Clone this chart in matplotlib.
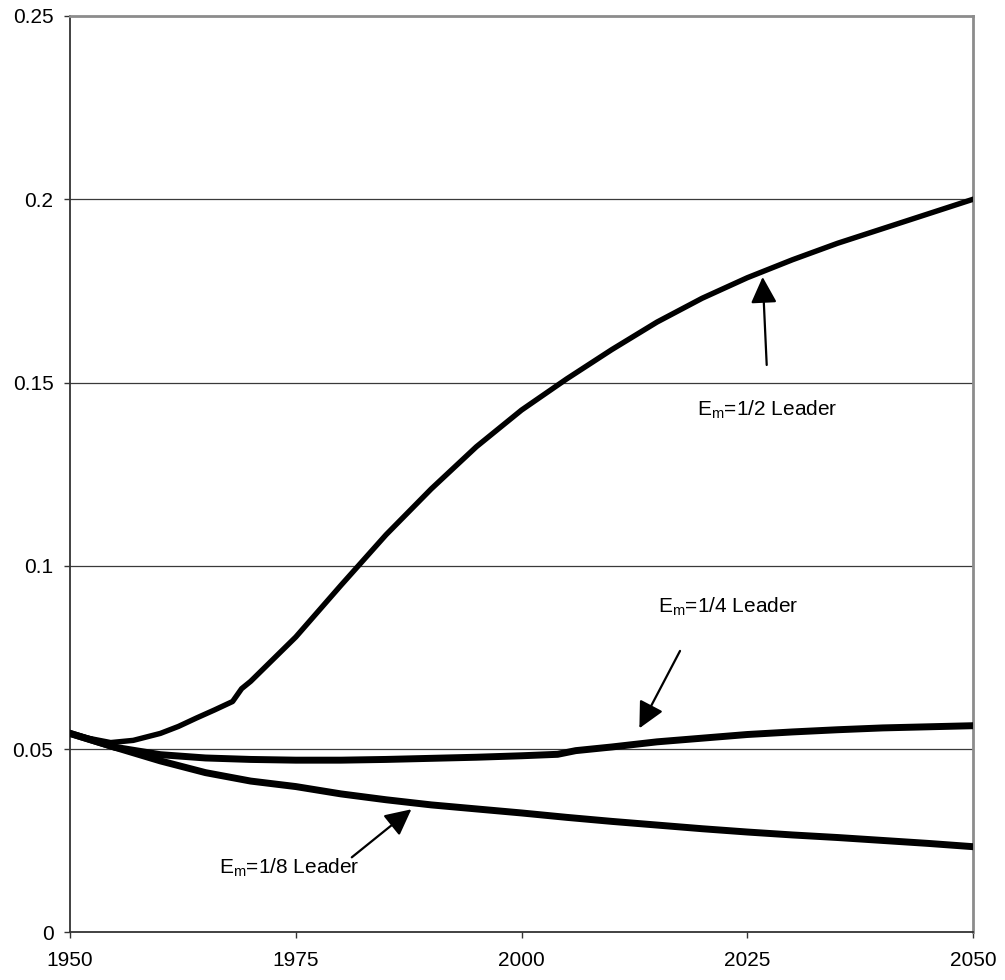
import matplotlib
matplotlib.use("Agg")
import matplotlib.pyplot as plt

plt.rcParams['font.family'] = ['Liberation Sans', 'DejaVu Sans']
plt.rcParams['mathtext.fontset'] = 'custom'
plt.rcParams['mathtext.rm'] = 'Liberation Sans'
plt.rcParams['mathtext.it'] = 'Liberation Sans:italic'

# E_m = 1/2 leader
years_half = [1950, 1952, 1954.5, 1957, 1960, 1962, 1964, 1966, 1968, 1969, 1970, 1975, 1980,
              1985, 1990, 1995, 2000, 2005, 2010, 2015, 2020, 2025, 2030, 2035, 2040,
              2045, 2050]
vals_half = [0.0543, 0.0530, 0.0518, 0.0524, 0.0543, 0.0562, 0.0585, 0.0607, 0.0630, 0.0665,
             0.0685, 0.0806, 0.0947, 0.1085, 0.1210, 0.1325, 0.1425, 0.1510, 0.1590,
             0.1665, 0.1730, 0.1786, 0.1835, 0.1880, 0.1920, 0.1960, 0.2000]

# E_m = 1/4 leader
years_quarter = [1950, 1955, 1960, 1965, 1970, 1975, 1980, 1985, 1990, 1995, 2000, 2004,
                 2006, 2010, 2015, 2020, 2025, 2030, 2035, 2040, 2045, 2050]
vals_quarter = [0.0543, 0.0505, 0.0485, 0.0476, 0.0472, 0.0470, 0.0470, 0.0472, 0.0475,
                0.0478, 0.0482, 0.0486, 0.0496, 0.0506, 0.0520, 0.0530, 0.0540, 0.0547,
                0.0553, 0.0558, 0.0561, 0.0564]

# E_m = 1/8 leader
years_eighth = [1950, 1955, 1960, 1965, 1970, 1975, 1980, 1985, 1990, 1995, 2000, 2005,
                2010, 2015, 2020, 2025, 2030, 2035, 2040, 2045, 2050]
vals_eighth = [0.0543, 0.0505, 0.0468, 0.0436, 0.0413, 0.0398, 0.0378, 0.0362, 0.0348,
               0.0337, 0.0326, 0.0314, 0.0303, 0.0293, 0.0283, 0.0274, 0.0266, 0.0259,
               0.0251, 0.0243, 0.0234]

x_ticks = [1950, 1975, 2000, 2025, 2050]
x_labels = ['1950', '1975', '2000', '2025', '2050']
y_ticks = [0, 0.05, 0.1, 0.15, 0.2, 0.25]
y_labels = ['0', '0.05', '0.1', '0.15', '0.2', '0.25']

labels = ['E$_{\\mathrm{m}}$=1/2 Leader', 'E$_{\\mathrm{m}}$=1/4 Leader', 'E$_{\\mathrm{m}}$=1/8 Leader']

fig = plt.figure(figsize=(10.05, 9.8), dpi=100)
ax = fig.add_axes([0.0697, 0.0485, 0.8985, 0.9352])

ax.set_xlim(1950, 2050)
ax.set_ylim(0, 0.25)

for y in [0.05, 0.1, 0.15, 0.2]:
    ax.axhline(y, color='#3a3a3a', lw=0.9, zorder=1)

ax.plot(years_half, vals_half, color='black', lw=3.9, solid_joinstyle='round', zorder=3)
ax.plot(years_quarter, vals_quarter, color='black', lw=5.0, solid_joinstyle='round', zorder=3)
ax.plot(years_eighth, vals_eighth, color='black', lw=5.0, solid_joinstyle='round', zorder=3)

ax.set_xticks(x_ticks)
ax.set_xticklabels(x_labels)
ax.set_yticks(y_ticks)
ax.set_yticklabels(y_labels)
ax.tick_params(axis='both', direction='out', length=4, width=1, color='#333333',
               labelsize=15, labelcolor='black')
ax.tick_params(axis='y', pad=8)
ax.tick_params(axis='x', pad=9)

for side in ['left', 'bottom']:
    ax.spines[side].set_color('#333333')
    ax.spines[side].set_linewidth(1.3)
for side in ['top', 'right']:
    ax.spines[side].set_color('#8c8c8c')
    ax.spines[side].set_linewidth(2.0)

arrow = dict(arrowstyle='-|>,head_length=1.6,head_width=0.8', color='black', lw=1.6,
             shrinkA=0, shrinkB=0)

# annotations in data coords
ax.annotate('', xy=(2026.7, 0.1788), xytext=(2027.15, 0.1548), arrowprops=arrow)
ax.text(2027.2, 0.1425, labels[0], ha='center', va='center', fontsize=15)

ax.annotate('', xy=(2013.05, 0.0557), xytext=(2017.55, 0.0768), arrowprops=arrow)
ax.text(2022.9, 0.0888, labels[1], ha='center', va='center', fontsize=15)

ax.annotate('', xy=(1987.8, 0.0336), xytext=(1981.2, 0.0205), arrowprops=arrow)
ax.text(1974.3, 0.0176, labels[2], ha='center', va='center', fontsize=15)

fig.savefig('out.png', dpi=100, facecolor='white')
